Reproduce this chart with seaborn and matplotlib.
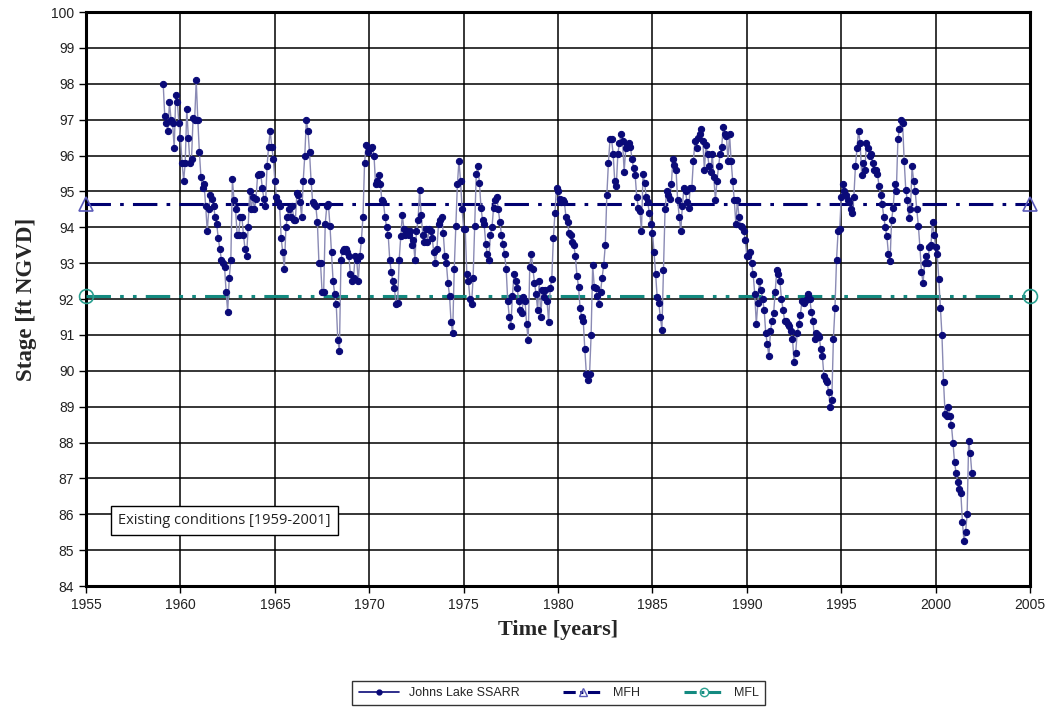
import numpy as np
import pandas as pd
import matplotlib
matplotlib.use("Agg")
import matplotlib.pyplot as plt
from matplotlib.lines import Line2D
import seaborn as sns

# ---- data (monthly stage readings, ft NGVD), starting Jan 1959 ----
start_year = 1959
stage_1959_1968 = [
    98.0, 97.1, 96.9, 96.7, 97.5, 97.0, 96.9, 96.2, 97.7, 97.5, 96.9, 96.5,
    95.8, 95.3, 95.8, 97.3, 96.5, 95.8, 95.9, 97.05, 97.0, 98.1, 97.0, 96.1,
    95.4, 95.1, 95.2, 94.6, 93.9, 94.5, 94.9, 94.8, 94.6, 94.3, 94.1, 93.7,
    93.4, 93.1, 93.0, 92.9, 92.2, 91.65, 92.6, 93.1, 95.35, 94.75, 94.5, 93.8,
    93.8, 94.3, 94.3, 93.8, 93.4, 93.2, 94.0, 95.0, 94.5, 94.85, 94.5, 94.8,
    95.45, 95.5, 95.5, 95.1, 94.8, 94.6, 95.7, 96.25, 96.7, 96.25, 95.9, 95.3,
    94.85, 94.7, 94.6, 93.7, 93.3, 92.85, 94.0, 94.3, 94.5, 94.3, 94.6, 94.2,
    94.2, 94.95, 94.9, 94.7, 94.3, 95.3, 96.0, 97.0, 96.7, 96.1, 95.3, 94.7,
    94.65, 94.6, 94.15, 93.0, 93.0, 92.2, 92.2, 94.1, 94.6, 94.65, 94.05, 93.3,
    92.5, 92.15, 91.85, 90.85, 90.55, 93.1, 93.35, 93.4, 93.4, 93.3, 93.2, 92.7,
]
stage_1969_1978 = [
    92.5, 92.6, 93.2, 93.1, 92.5, 93.2, 93.65, 94.3, 95.8, 96.3, 96.1, 96.2,
    96.2, 96.25, 96.0, 95.2, 95.3, 95.45, 95.2, 94.75, 94.7, 94.3, 94.0, 93.8,
    93.1, 92.75, 92.5, 92.3, 91.85, 91.9, 93.1, 93.75, 94.35, 93.95, 93.8, 93.9,
    93.8, 93.9, 93.5, 93.65, 93.1, 93.9, 94.2, 95.05, 94.35, 93.8, 93.6, 93.95,
    93.6, 93.95, 93.9, 93.7, 93.3, 93.0, 93.4, 94.1, 94.2, 94.3, 93.85, 93.2,
    93.0, 92.45, 92.1, 91.35, 91.05, 92.85, 94.05, 95.2, 95.85, 95.3, 94.5, 93.95,
    93.95, 92.7, 92.5, 92.0, 91.85, 92.6, 94.05, 95.5, 95.7, 95.25, 94.55, 94.2,
    94.1, 93.55, 93.25, 93.1, 93.8, 94.0, 94.55, 94.75, 94.85, 94.5, 94.15, 93.8,
    93.55, 93.25, 92.85, 91.95, 91.5, 91.25, 92.1, 92.7, 92.5, 92.3, 91.95, 91.7,
    91.6, 92.05, 91.95, 91.3, 90.85, 92.9, 93.25, 92.85, 92.45, 92.15, 91.7, 92.5,
]
stage_1979_1988 = [
    91.5, 92.25, 92.05, 92.25, 91.95, 91.35, 92.3, 92.55, 93.7, 94.4, 95.1, 95.0,
    94.8, 94.7, 94.75, 94.7, 94.3, 94.15, 93.85, 93.8, 93.6, 93.5, 93.2, 92.65,
    92.35, 91.75, 91.5, 91.4, 90.6, 89.9, 89.75, 89.9, 91.0, 92.95, 92.35, 92.3,
    92.1, 91.85, 92.2, 92.6, 92.95, 93.5, 94.9, 95.8, 96.45, 96.45, 96.05, 95.3,
    95.15, 96.05, 96.35, 96.6, 96.4, 95.55, 96.2, 96.3, 96.35, 96.25, 95.9, 95.65,
    95.45, 94.85, 94.55, 94.45, 93.9, 95.5, 95.25, 94.85, 94.7, 94.4, 94.1, 93.85,
    93.3, 92.7, 92.05, 91.9, 91.5, 91.15, 92.8, 94.5, 95.0, 94.9, 94.8, 95.2,
    95.9, 95.75, 95.6, 94.75, 94.3, 93.9, 94.6, 95.1, 95.0, 94.7, 94.55, 95.1,
    95.1, 95.85, 96.4, 96.2, 96.5, 96.6, 96.75, 96.4, 95.6, 96.3, 96.05, 95.7,
    95.55, 96.05, 95.4, 94.75, 95.3, 95.7, 96.05, 96.25, 96.8, 96.6, 96.55, 95.85,
]
stage_1989_2001 = [
    96.6, 95.85, 95.3, 94.75, 94.1, 94.75, 94.3, 94.05, 94.0, 93.9, 93.65, 93.2,
    93.2, 93.3, 93.0, 92.7, 92.15, 91.3, 91.9, 92.5, 92.25, 92.0, 91.7, 91.05,
    90.75, 90.4, 91.1, 91.4, 91.6, 92.2, 92.8, 92.7, 92.5, 92.0, 91.7, 91.4,
    91.4, 91.3, 91.25, 91.1, 90.9, 90.25, 90.5, 91.05, 91.3, 91.55, 91.95, 91.9,
    91.95, 92.0, 92.15, 92.0, 91.65, 91.4, 90.9, 91.05, 91.0, 90.95, 90.6, 90.4,
    89.85, 89.75, 89.7, 89.4, 89.0, 89.2, 90.9, 91.75, 93.1, 93.9, 93.95, 94.85,
    95.2, 95.0, 94.9, 94.75, 94.7, 94.5, 94.4, 94.85, 95.7, 96.2, 96.7, 96.35,
    95.45, 95.8, 95.6, 96.35, 96.2, 96.0, 96.05, 95.8, 95.6, 95.6, 95.5, 95.15,
    94.9, 94.65, 94.3, 94.0, 93.75, 93.25, 93.05, 94.2, 94.55, 95.2, 95.0, 96.45,
    96.75, 97.0, 96.9, 95.85, 95.05, 94.75, 94.25, 94.5, 95.7, 95.3, 95.0, 94.5,
    94.05, 93.45, 92.75, 92.45, 93.0, 93.2, 93.0, 93.45, 93.5, 94.15, 93.8, 93.45,
    93.25, 92.55, 91.75, 91.0, 89.7, 88.8, 88.75, 89.0, 88.75, 88.5, 88.0, 87.45,
    87.15, 86.9, 86.7, 86.6, 85.8, 85.25, 85.5, 86.0, 88.05, 87.7, 87.15,
]
stage = stage_1959_1968 + stage_1969_1978 + stage_1979_1988 + stage_1989_2001

mfh_level = 94.65
mfl_level = 92.1
x_range = [1955, 2005]
y_ticks = list(range(84, 101))
x_ticks = list(range(1955, 2006, 5))
series_labels = ["Johns Lake SSARR", "MFH", "MFL"]
note_text = "Existing conditions [1959-2001]"

dates = pd.date_range(f"{start_year}-01-15", periods=len(stage), freq="MS")
years = dates.year + (dates.month - 1) / 12.0
df = pd.DataFrame({"year": years, "stage": stage})

# ---- figure ----
sns.set_theme(style="white")
plt.rcParams["font.family"] = ["Liberation Sans", "DejaVu Sans"]

fig = plt.figure(figsize=(10.5, 7.13), dpi=100)
ax = fig.add_axes([0.082, 0.178, 0.899, 0.805])

navy = "#0a0a78"
mfh_color = "#000070"
mfl_color = "#138a80"
sns.lineplot(data=df, x="year", y="stage", ax=ax, estimator=None, sort=False,
             color="#8a8ab4", linewidth=1.0, marker="o", markersize=4.5,
             markerfacecolor=navy, markeredgecolor=navy, zorder=4)

mfh_dashes = (8, 3, 1.2, 3)
mfl_dashes = (8, 3, 1.2, 3, 1.2, 3)
ax.plot(x_range, [mfh_level, mfh_level], color=mfh_color, linewidth=2.2,
        dashes=mfh_dashes, marker="^", markersize=10,
        markerfacecolor="none", markeredgecolor="#5a5ab8",
        markeredgewidth=1.2, clip_on=False, zorder=3)
ax.plot(x_range, [mfl_level, mfl_level], color=mfl_color, linewidth=2.2,
        dashes=mfl_dashes, marker="o", markersize=10,
        markerfacecolor="none", markeredgecolor="#2aa090",
        markeredgewidth=1.2, clip_on=False, zorder=3)

ax.set_xlim(*x_range)
ax.set_ylim(84, 100)
ax.set_xticks(x_ticks)
ax.set_yticks(y_ticks)
ax.grid(True, color="black", linewidth=1.1)
ax.set_axisbelow(True)
for s in ax.spines.values():
    s.set_visible(True)
    s.set_color("black")
    s.set_linewidth(2.2)
ax.tick_params(axis="both", direction="out", length=5, width=1, color="black",
               labelsize=10, labelcolor="#222222", bottom=True, left=True)

ax.set_xlabel("Time [years]", family="Liberation Serif", fontweight="bold",
              fontsize=16, labelpad=6)
ax.set_ylabel("Stage [ft NGVD]", family="Liberation Serif", fontweight="bold",
              fontsize=16.5, labelpad=10)

ax.text(0.034, 0.114, note_text, transform=ax.transAxes, fontsize=10.5,
        family="Open Sans", color="#222222", va="center", ha="left",
        bbox=dict(boxstyle="square,pad=0.5", facecolor="white",
                  edgecolor="black", linewidth=1.0), zorder=6)

handles = [
    Line2D([0], [0], color=navy, linewidth=1.2, marker="o", markersize=3.5,
           markerfacecolor=navy, markeredgecolor=navy),
    Line2D([0], [0], color=mfh_color, linewidth=2.2, dashes=(4, 1.5, 1, 1.5),
           marker="^", markersize=6, markerfacecolor="none",
           markeredgecolor="#5a5ab8"),
    Line2D([0], [0], color=mfl_color, linewidth=2.2, dashes=(4, 1.5, 1, 1.5),
           marker="o", markersize=6, markerfacecolor="none",
           markeredgecolor="#2aa090"),
]
leg = fig.legend(handles, series_labels,
                 loc="center", bbox_to_anchor=(0.532, 0.028), ncol=3,
                 fontsize=9, frameon=True, fancybox=False, edgecolor="black",
                 handlelength=3.2, columnspacing=3.5, borderpad=0.5)
leg.get_frame().set_linewidth(1.0)

fig.savefig("out.png", dpi=100)
